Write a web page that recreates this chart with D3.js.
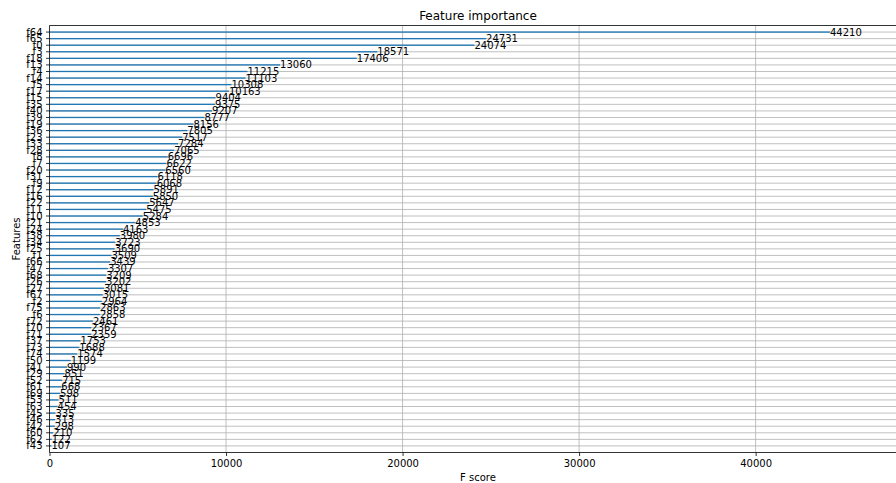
<!DOCTYPE html>
<html>
<head>
<meta charset="utf-8">
<script src="https://cdn.jsdelivr.net/npm/d3@7"></script>
<style>
  body { margin: 0; background: #fff; }
  svg { display: block; font-family: "DejaVu Sans", sans-serif; }
</style>
</head>
<body>
<script>
// features listed top -> bottom, as in the plot
const features = ["f64","f65","f0","f3","f18","f13","f4","f14","f5","f17","f15","f35","f40","f39","f19","f36",
  "f23","f33","f28","f8","f7","f20","f31","f9","f12","f16","f22","f11","f10","f21","f24","f38",
  "f34","f25","f1","f66","f47","f68","f26","f27","f67","f2","f75","f6","f72","f70","f71","f37",
  "f73","f74","f50","f41","f29","f52","f61","f69","f53","f63","f45","f46","f42","f60","f62","f43"];
const scores = [44210,24731,24074,18571,17406,13060,11215,11103,10308,10163,9404,9375,9207,8777,8156,7805,
  7517,7284,7065,6696,6622,6560,6118,6068,5891,5850,5647,5475,5284,4853,4163,3980,
  3723,3690,3509,3439,3307,3209,3202,3081,3015,2964,2863,2858,2461,2367,2359,1753,
  1688,1574,1199,990,851,715,668,598,511,454,335,313,298,210,122,107];
const xTicks = [0, 10000, 20000, 30000, 40000];

const width = 896, height = 483;
const mLeft = 49.5, mTop = 25.5, mBottom = 452.5;
const n = features.length;

const svg = d3.select("body").append("svg")
  .attr("width", width).attr("height", height);

// xgboost style: xlim (0, max*1.1), ylim (-1, n)
const x = d3.scaleLinear().domain([0, d3.max(scores) * 1.1]).range([mLeft, 908]);
const y = d3.scaleLinear().domain([-1, n]).range([mBottom, mTop]);
const rowY = (i) => y(n - 1 - i);

// grid
svg.append("g").selectAll("line").data(features).join("line")
  .attr("x1", mLeft).attr("x2", width)
  .attr("y1", (d, i) => rowY(i)).attr("y2", (d, i) => rowY(i))
  .attr("stroke", "#b0b0b0").attr("stroke-width", 0.8);
svg.append("g").selectAll("line").data(xTicks.slice(1)).join("line")
  .attr("x1", d => x(d)).attr("x2", d => x(d))
  .attr("y1", mTop).attr("y2", mBottom)
  .attr("stroke", "#b0b0b0").attr("stroke-width", 0.8);

// bars (height 0.2)
const bh = y(0) - y(0.2);
svg.append("g").selectAll("rect").data(scores).join("rect")
  .attr("x", x(0))
  .attr("y", (d, i) => rowY(i) - bh / 2)
  .attr("width", d => x(d) - x(0))
  .attr("height", bh)
  .attr("fill", "#1f77b4");

// value labels
svg.append("g").selectAll("text").data(scores).join("text")
  .attr("x", d => x(d + 1))
  .attr("y", (d, i) => rowY(i))
  .attr("dy", "0.35em")
  .attr("font-size", 10)
  .attr("fill", "#000")
  .text(d => d);

// axes
const xAxis = d3.axisBottom(x).tickValues(xTicks).tickSize(3.5).tickPadding(3.5).tickFormat(d3.format("d"));
const gx = svg.append("g").attr("transform", `translate(0,${mBottom})`).call(xAxis);
gx.select(".domain").remove();
gx.selectAll("text").attr("font-size", 10).attr("font-family", "DejaVu Sans").attr("fill", "#000");
gx.selectAll("line").attr("stroke", "#000").attr("stroke-width", 0.8);

const gy = svg.append("g").attr("transform", `translate(${mLeft},0)`);
gy.selectAll("line").data(features).join("line")
  .attr("x1", -3.5).attr("x2", 0)
  .attr("y1", (d, i) => rowY(i)).attr("y2", (d, i) => rowY(i))
  .attr("stroke", "#000").attr("stroke-width", 0.8);
gy.selectAll("text").data(features).join("text")
  .attr("x", -7)
  .attr("y", (d, i) => rowY(i))
  .attr("dy", "0.35em")
  .attr("text-anchor", "end")
  .attr("font-size", 10)
  .attr("fill", "#000")
  .text(d => d);

// spines
svg.append("line").attr("x1", mLeft).attr("x2", width).attr("y1", mTop).attr("y2", mTop)
  .attr("stroke", "#000").attr("stroke-width", 0.8);
svg.append("line").attr("x1", mLeft).attr("x2", width).attr("y1", mBottom).attr("y2", mBottom)
  .attr("stroke", "#000").attr("stroke-width", 0.8);
svg.append("line").attr("x1", mLeft).attr("x2", mLeft).attr("y1", mTop).attr("y2", mBottom)
  .attr("stroke", "#000").attr("stroke-width", 0.8);

// titles
svg.append("text").attr("x", 478).attr("y", 20).attr("text-anchor", "middle")
  .attr("font-size", 12).text("Feature importance");
svg.append("text").attr("x", 478).attr("y", 481).attr("text-anchor", "middle")
  .attr("font-size", 10).text("F score");
svg.append("text").attr("transform", `translate(20,${(mTop + mBottom) / 2}) rotate(-90)`)
  .attr("text-anchor", "middle").attr("font-size", 10).text("Features");
</script>
</body>
</html>
